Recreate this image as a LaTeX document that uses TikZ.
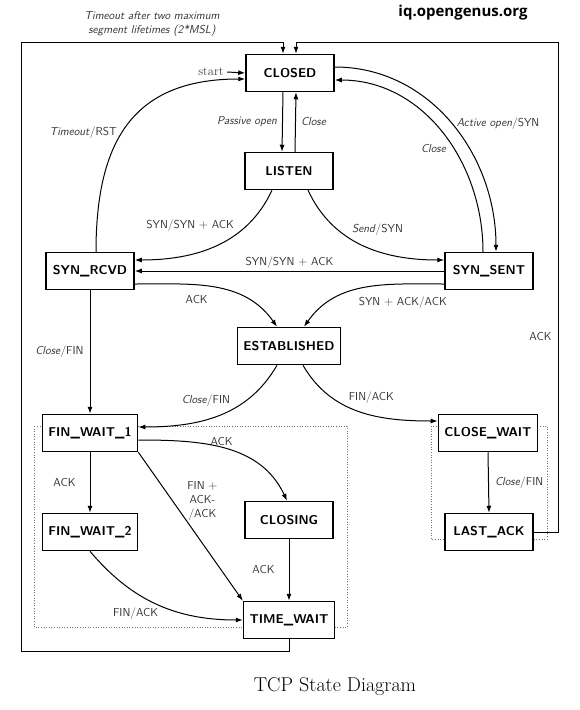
\documentclass[tikz,border=0pt]{standalone}
\usepackage{fontspec}
\newfontfamily\sitefont{Open Sans}
\usetikzlibrary{arrows.meta,backgrounds,positioning}
\tikzset{state node/.style={rectangle, draw, fill=white, line width=1.5pt,
    minimum width=88pt, minimum height=37pt, inner xsep=6pt,
    font=\sffamily\bfseries\fontsize{12.8}{15}\selectfont}}
\tikzset{regular edge/.style={draw, line width=1pt, -{Latex[length=7pt,width=5pt]}}}
\tikzset{edge label/.style={font=\sffamily\fontsize{11.5}{14}\selectfont, text=black!80, inner sep=2pt}}
\tikzset{group box/.style={draw=black!55, dotted, line width=0.6pt}}

\begin{document}
\begin{tikzpicture}
  [x=1pt, y=-1pt]
  \useasboundingbox (0,0) rectangle (579,710);

  \node [state node] (closed)    at (290, 73) {CLOSED};
  \node [state node] (listen)    at (289,171) {LISTEN};
  \node [state node] (synrcvd)   at ( 90,271) {SYN\_RCVD};
  \node [state node] (synsent)   at (489,271) {SYN\_SENT};
  \node [state node] (estab)     at (289,346) {ESTABLISHED};
  \node [state node] (finwait1)  at ( 90,433) {FIN\_WAIT\_1};
  \node [state node] (closewait) at (488,433) {CLOSE\_WAIT};
  \node [state node] (finwait2)  at ( 90,532) {FIN\_WAIT\_2};
  \node [state node] (closing)   at (289,520) {CLOSING};
  \node [state node] (timewait)  at (289,620) {TIME\_WAIT};
  \node [state node] (lastack)   at (489,532) {LAST\_ACK};

  \node [font=\fontsize{12.5}{14}\selectfont, text=black!75] (start) at (211,72) {start};
  \node [font=\sitefont\bfseries\fontsize{15}{17}\selectfont] (site) at (463,13) {iq.opengenus.org};
  \node [font=\fontsize{20}{24}\selectfont] (caption) at (335,687) {TCP State Diagram};

  \coordinate (nw) at ( 21, 42);
  \coordinate (ne) at (558, 42);
  \coordinate (sw) at ( 21,651);

  \begin{scope}[on background layer]
    \draw [group box] ( 34,426) rectangle (347,627);
    \draw [group box] (431,426) rectangle (547,539);
  \end{scope}

  \draw [regular edge] (start.east) -- (closed.west);
  \draw [regular edge] ([xshift=-7pt]closed.south) -- node [edge label, left=3pt] {\textit{Passive open}} ([xshift=-7pt]listen.north);
  \draw [regular edge] ([xshift=6pt]listen.north)  -- node [edge label, right=3pt] {\textit{Close}} ([xshift=6pt]closed.south);
  \draw [regular edge] ([xshift=6pt]synrcvd.north) to [out=90, in=180, looseness=1.25] node [edge label, pos=0.45, left=3pt] {\textit{Timeout}/RST} ([yshift=-6pt]closed.west);
  \draw [regular edge] ([yshift=6pt]closed.east)   to [out=0, in=90] node [edge label, pos=0.5, right=3pt] {\textit{Active open}/SYN} ([xshift=7pt]synsent.north);
  \draw [regular edge] ([xshift=-6pt]synsent.north) to [out=90, in=0] node [edge label, pos=0.42, left=5pt] {\textit{Close}} ([yshift=-7pt]closed.east);

  \draw [regular edge] ([xshift=-17pt]listen.south) to [out=-115, in=0] node [edge label, pos=0.35, above left] {SYN/SYN $+$ ACK} ([yshift=11pt]synrcvd.east);
  \draw [regular edge] ([xshift=19pt]listen.south)  to [out=-65, in=180] node [edge label, pos=0.4, above right] {\textit{Send}/SYN} ([yshift=11pt]synsent.west);
  \draw [regular edge] (synsent.west) -- node [edge label, above] {SYN/SYN $+$ ACK} (synrcvd.east);
  \draw [regular edge] ([yshift=-13pt]synrcvd.east) to [out=0, in=125] node [edge label, pos=0.5, below left=7pt] {ACK} ([xshift=-12pt]estab.north);
  \draw [regular edge] ([yshift=-13pt]synsent.west) to [out=180, in=55] node [edge label, pos=0.25, below=10pt] {SYN $+$ ACK/ACK} ([xshift=15pt]estab.north);
  \draw [regular edge] (synrcvd.south) -- node [edge label, left=4pt] {\textit{Close}/FIN} (finwait1.north);

  \draw [regular edge] ([xshift=-12pt]estab.south) to [out=-120, in=0] node [edge label, pos=0.4, above left] {\textit{Close}/FIN} ([yshift=6pt]finwait1.east);
  \draw [regular edge] ([xshift=14pt]estab.south)  to [out=-60, in=180] node [edge label, pos=0.4, above right] {FIN/ACK} ([yshift=12pt]closewait.west);

  \draw [regular edge] ([yshift=-7pt]finwait1.east) to [out=0, in=115] node [edge label, pos=0.47, above] {ACK} ([xshift=-2pt]closing.north);
  \draw [regular edge] (finwait1.south) -- node [edge label, left=12pt] {ACK} (finwait2.north);
  \draw [regular edge] (finwait1.south east) -- node [edge label, pos=0.33, right=12pt, align=center] {FIN $+$\\ACK-\\/ACK} (timewait.north west);
  \draw [regular edge] (closing.south) -- node [edge label, left=12pt] {ACK} (timewait.north);
  \draw [regular edge] (finwait2.south) to [out=-50, in=180] node [edge label, pos=0.52, below left] {FIN/ACK} (timewait.west);
  \draw [regular edge] (closewait.south) -- node [edge label, right=4pt] {\textit{Close}/FIN} (lastack.north);

  \draw [regular edge] (lastack.east) -- (lastack.east -| ne) -- node [edge label, pos=0.4, left=4pt] {ACK} (ne) -| ([xshift=6pt]closed.north);
  \draw [regular edge] (timewait.south) |- (sw) -- (nw) -| node [edge label, pos=0.25, above=3pt, align=center] {\textit{Timeout after two maximum}\\\textit{segment lifetimes (2*MSL)}} ([xshift=-7pt]closed.north);
\end{tikzpicture}
\end{document}
